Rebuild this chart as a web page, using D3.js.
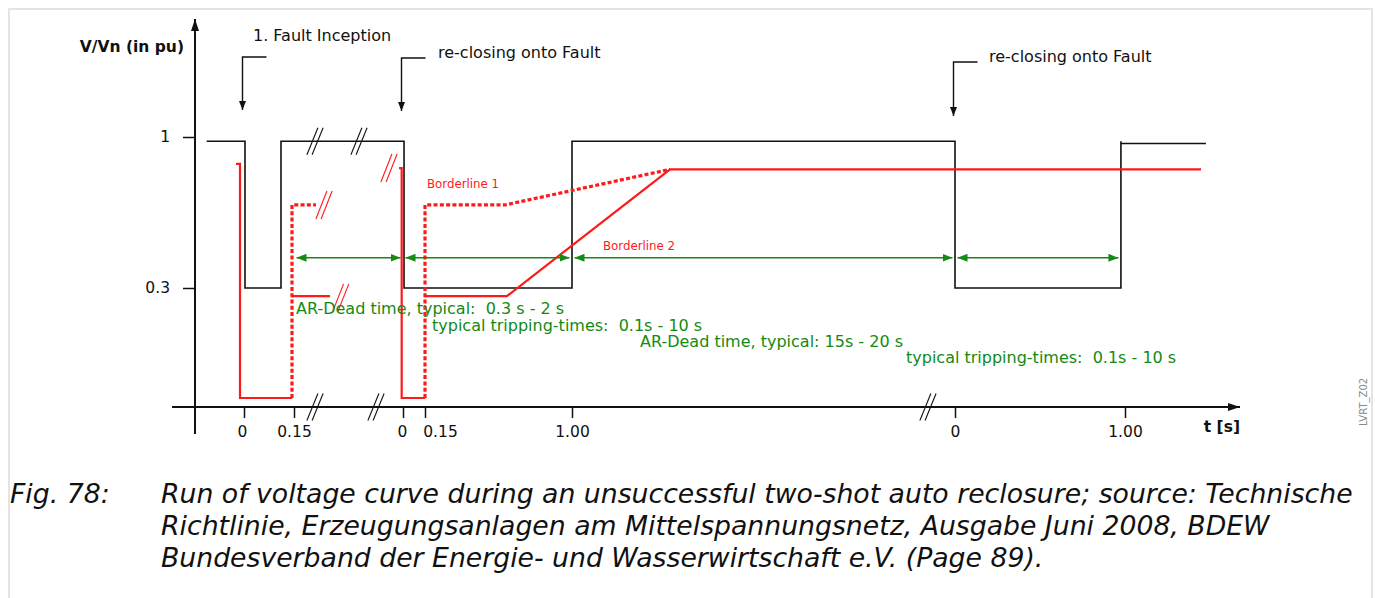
<!DOCTYPE html>
<html><head><meta charset="utf-8">
<script src="https://cdn.jsdelivr.net/npm/d3@7"></script>
<style>
html,body{margin:0;padding:0;background:#fff;}
svg{display:block;font-family:"DejaVu Sans",sans-serif;}
</style>
</head><body>
<svg id="chart" width="1375" height="598"></svg>
<script>
// ================= DATA =================
// x axis: three schematic time segments (each restarts at 0 s)
const xTickSeg    = [0, 0, 1, 1, 1, 2, 2];
const xTickTime   = [0, 0.15, 0, 0.15, 1, 0, 1];
const xTickLabels = ["0", "0.15", "0", "0.15", "1.00", "0", "1.00"];
// y axis (V/Vn in pu)
const yTickValues = [1, 0.3];
const yTickLabels = ["1", "0.3"];
const yBaseValue  = 0;

// voltage curve: [segment, t (s), V/Vn]
const voltage = [
  [0, -0.112, 0.98], [0, 0.003, 0.98], [0, 0.003, 0.3], [0, 0.111, 0.3], [0, 0.111, 0.98],
  [1, 0.007, 0.98], [1, 0.007, 0.3], [1, 1.0, 0.3], [1, 1.0, 0.98],
  [2, 0.0, 0.98], [2, 0.0, 0.3], [2, 0.976, 0.3], [2, 0.976, 0.98], [2, 0.976, 0.97], [2, 1.476, 0.97]
];
// Borderline 2 (solid red), pieces
const borderline2 = [
  [[0, -0.024, 0.875], [0, -0.012, 0.875], [0, -0.012, 0], [0, 0.144, 0]],
  [[0, 0.144, 0.278], [0, 0.258, 0.278]],
  [[1, -0.027, 0.856], [1, -0.009, 0.856], [1, -0.009, 0], [1, 0.15, 0]],
  [[1, 0.15, 0.278], [1, 0.624, 0.278], [1, 1.567, 0.85], [2, 1.447, 0.85]]
];
// Borderline 1 (dotted red), pieces
const borderline1 = [
  [[0, 0.144, 0], [0, 0.144, 0.685], [0, 0.216, 0.685]],
  [[1, 0.15, 0], [1, 0.15, 0.685], [1, 0.613, 0.685], [1, 1.567, 0.85]]
];
const borderlineLabels = ["Borderline 1", "Borderline 2"];

// break symbols "//"
const curveBreaks  = [[0, 0.213, 0.98], [0, 0.345, 0.98]];
const borderBreaks = [[0, 0.24, 0.685], [0, 0.29, 0.273], [0, 0.435, 0.856]];
const axisBreaks   = [[0, 0.213], [0, 0.396], [2, -0.159]];

// time intervals (green double arrows): [from[seg,t], to[seg,t]]
const intervals = [
  [[0, 0.15], [1, 0]],
  [[1, 0], [1, 1]],
  [[1, 1], [2, 0]],
  [[2, 0], [2, 0.976]]
];
const intervalLabels = [
  "AR-Dead time, typical:  0.3 s - 2 s",
  "typical tripping-times:  0.1s - 10 s",
  "AR-Dead time, typical: 15s - 20 s",
  "typical tripping-times:  0.1s - 10 s"
];
// events (black arrows)
const eventSeg    = [0, 1, 2];
const eventLabels = ["1. Fault Inception", "re-closing onto Fault", "re-closing onto Fault"];

const yAxisTitle = "V/Vn (in pu)";
const xAxisTitle = "t [s]";
const figId = "LVRT_Z02";
const captionNo = "Fig. 78:";
const captionLines = [
  "Run of voltage curve during an unsuccessful two-shot auto reclosure; source: Technische",
  "Richtlinie, Erzeugungsanlagen am Mittelspannungsnetz, Ausgabe Juni 2008, BDEW",
  "Bundesverband der Energie- und Wasserwirtschaft e.V. (Page 89)."
];

// ================= LAYOUT =================
const L = {
  segRanges: [[244, 294], [403, 425, 572], [955, 1125]],
  yRange: [398, 288, 137],
  axisX: 195, axisY: 407,
  xAxisStart: 172, xAxisEnd: 1240,
  yAxisTop: 19, yAxisBottom: 434,
  arrowLevel: 0.44,
  intervalInset: 2.5,
  intervalLabelPos: [[296, 314], [432, 331], [640, 347], [906, 363]],
  eventTop: [57, 58, 62], eventTip: [110, 111, 116],
  eventLabelPos: [[253, 41], [438, 58], [989, 62]],
  borderLabelPos: [[427, 188], [603, 250]],
  tickLabelShift: [-2, 0, -1, 15, 0, 0, 0],
  tickFont: 15.5, font: 16, captionFont: 26.7
};
const BLACK = "#111", RED = "#ff1a1a", GREEN = "#138a13";

// ================= SCALES =================
const segDomains = [0, 1, 2].map(s => xTickTime.filter((_, i) => xTickSeg[i] === s));
const xs = segDomains.map((d, i) => d3.scaleLinear().domain(d).range(L.segRanges[i]));
const X = (seg, t) => xs[seg](t);
const y = d3.scaleLinear().domain([yBaseValue, ...yTickValues.slice().reverse()]).range(L.yRange);

const svg = d3.select("#chart");

// frame
svg.append("rect").attr("x", 9).attr("y", 9).attr("width", 1363).attr("height", 620)
  .attr("fill", "none").attr("stroke", "#e4e4e4").attr("stroke-width", 2);

// markers
const defs = svg.append("defs");
function marker(id, color, w, h, orient) {
  defs.append("marker").attr("id", id).attr("viewBox", `0 ${-h} ${w} ${2*h}`)
    .attr("refX", w).attr("refY", 0).attr("markerWidth", w).attr("markerHeight", 2*h)
    .attr("markerUnits", "userSpaceOnUse").attr("orient", orient)
    .append("path").attr("d", `M0,${-h}L${w},0L0,${h}Z`).attr("fill", color);
}
marker("axArrow", BLACK, 12, 4, "auto");
marker("evArrow", BLACK, 9, 3.5, "auto");
marker("gEnd", GREEN, 10, 4, "auto");
marker("gStart", GREEN, 10, 4, "auto-start-reverse");

// ---- axes ----
svg.append("line").attr("x1", L.xAxisStart).attr("x2", L.xAxisEnd).attr("y1", L.axisY).attr("y2", L.axisY)
  .attr("stroke", BLACK).attr("stroke-width", 2).attr("marker-end", "url(#axArrow)");
svg.append("line").attr("x1", L.axisX).attr("x2", L.axisX).attr("y1", L.yAxisBottom).attr("y2", L.yAxisTop)
  .attr("stroke", BLACK).attr("stroke-width", 2).attr("marker-end", "url(#axArrow)");

xs.forEach((sc, s) => {
  const idx = xTickSeg.map((v, i) => v === s ? i : -1).filter(i => i >= 0);
  const g = svg.append("g").attr("transform", `translate(0,${L.axisY})`)
    .call(d3.axisBottom(sc).tickValues(idx.map(i => xTickTime[i]))
      .tickFormat((d, k) => xTickLabels[idx[k]]).tickSize(11).tickSizeOuter(0).tickPadding(8));
  g.select(".domain").remove();
  g.selectAll(".tick line").attr("stroke", BLACK).attr("stroke-width", 1.5);
  g.selectAll(".tick text").attr("font-size", L.tickFont).attr("font-family", "DejaVu Sans").attr("fill", "#111")
    .attr("dx", (d, k) => L.tickLabelShift[idx[k]]);
});
const gy = svg.append("g").attr("transform", `translate(${L.axisX},0)`)
  .call(d3.axisLeft(y).tickValues(yTickValues).tickFormat((d, i) => yTickLabels[i]).tickSize(12).tickPadding(13));
gy.select(".domain").remove();
gy.selectAll(".tick line").attr("stroke", BLACK).attr("stroke-width", 1.5);
gy.selectAll(".tick text").attr("font-size", L.tickFont).attr("font-family", "DejaVu Sans").attr("fill", "#111");

svg.append("text").attr("x", 184).attr("y", 52).attr("text-anchor", "end")
  .attr("font-size", L.tickFont).attr("font-weight", "bold").attr("fill", BLACK).text(yAxisTitle);
svg.append("text").attr("x", 1240).attr("y", 432).attr("text-anchor", "end")
  .attr("font-size", L.tickFont).attr("font-weight", "bold").attr("fill", BLACK).text(xAxisTitle);

// ---- curves ----
const line = d3.line().x(d => X(d[0], d[1])).y(d => y(d[2]));
svg.append("path").attr("d", line(voltage)).attr("fill", "none").attr("stroke", BLACK).attr("stroke-width", 1.6);
borderline2.forEach(p => svg.append("path").attr("d", line(p)).attr("fill", "none")
  .attr("stroke", RED).attr("stroke-width", 2.2));
borderline1.forEach(p => svg.append("path").attr("d", line(p)).attr("fill", "none")
  .attr("stroke", RED).attr("stroke-width", 3.2).attr("stroke-dasharray", "4,2.3"));

svg.selectAll(".blabel").data(borderlineLabels).join("text")
  .attr("x", (d, i) => L.borderLabelPos[i][0]).attr("y", (d, i) => L.borderLabelPos[i][1])
  .attr("font-size", 11.8).attr("fill", RED).text(d => d);

// ---- break symbols ----
function brk(cx, cy, color, h) {
  [-2.6, 2.6].forEach(o => svg.append("line")
    .attr("x1", cx + o - 5.5).attr("y1", cy + h / 2).attr("x2", cx + o + 5.5).attr("y2", cy - h / 2)
    .attr("stroke", color).attr("stroke-width", 1.1));
}
curveBreaks.forEach(d => brk(X(d[0], d[1]), y(d[2]), BLACK, 27));
borderBreaks.forEach(d => brk(X(d[0], d[1]), y(d[2]), RED, 28));
axisBreaks.forEach(d => brk(X(d[0], d[1]), L.axisY, BLACK, 27));

// ---- intervals ----
intervals.forEach((iv, i) => {
  svg.append("line")
    .attr("x1", X(iv[0][0], iv[0][1]) + L.intervalInset).attr("x2", X(iv[1][0], iv[1][1]) - L.intervalInset)
    .attr("y1", y(L.arrowLevel)).attr("y2", y(L.arrowLevel))
    .attr("stroke", GREEN).attr("stroke-width", 1.5)
    .attr("marker-start", "url(#gStart)").attr("marker-end", "url(#gEnd)");
  svg.append("text").attr("x", L.intervalLabelPos[i][0]).attr("y", L.intervalLabelPos[i][1])
    .attr("font-size", L.font).attr("fill", GREEN).style("white-space", "pre").text(intervalLabels[i]);
});

// ---- events ----
eventSeg.forEach((s, i) => {
  const x0 = X(s, 0) - 1.5;
  svg.append("path").attr("d", `M${x0 + 24},${L.eventTop[i]}H${x0}V${L.eventTip[i]}`)
    .attr("fill", "none").attr("stroke", BLACK).attr("stroke-width", 1.4).attr("marker-end", "url(#evArrow)");
  svg.append("text").attr("x", L.eventLabelPos[i][0]).attr("y", L.eventLabelPos[i][1])
    .attr("font-size", L.font).attr("fill", BLACK).text(eventLabels[i]);
});

// ---- figure id and caption ----
svg.append("text").attr("transform", "translate(1367,402) rotate(-90)").attr("text-anchor", "middle")
  .attr("font-size", 10).attr("fill", "#8a8a8a").text(figId);
svg.append("text").attr("x", 10).attr("y", 503).attr("font-size", L.captionFont).attr("font-style", "italic")
  .attr("fill", "#111").text(captionNo);
captionLines.forEach((t, i) => svg.append("text").attr("x", 161).attr("y", 503 + i * 32)
  .attr("font-size", L.captionFont).attr("font-style", "italic").attr("fill", "#111").text(t));
</script>
</body></html>
